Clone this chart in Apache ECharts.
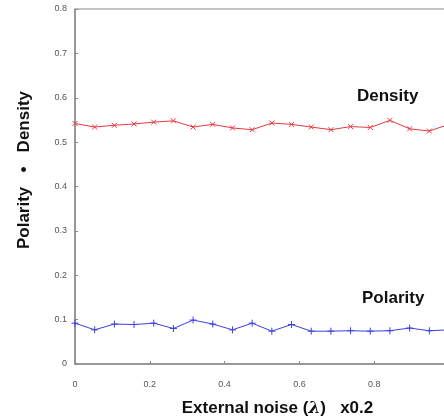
<!DOCTYPE html>
<html>
<head>
<meta charset="utf-8">
<script src="https://cdn.jsdelivr.net/npm/echarts@6/dist/echarts.min.js"></script>
<style>
  html, body { margin: 0; padding: 0; background: #fff; }
  #chart { width: 444px; height: 418px; }
</style>
</head>
<body>
<div id="chart"></div>
<script>
// 20 samples over the noise range 0..1
var noiseSteps = 20;
var density = [0.542, 0.534, 0.538, 0.541, 0.545, 0.548, 0.534, 0.540, 0.532, 0.528,
               0.543, 0.540, 0.534, 0.528, 0.535, 0.533, 0.549, 0.530, 0.525, 0.540];
var polarity = [0.092, 0.077, 0.090, 0.089, 0.092, 0.080, 0.099, 0.090, 0.077, 0.092,
                0.074, 0.089, 0.074, 0.074, 0.075, 0.074, 0.075, 0.081, 0.075, 0.077];
var xTicks = [0, 0.2, 0.4, 0.6, 0.8, 1];
var yTicks = [0, 0.1, 0.2, 0.3, 0.4, 0.5, 0.6, 0.7, 0.8];

function pairs(vals) {
  return vals.map(function (v, i) { return [i / (noiseSteps - 1), v]; });
}

var red = "#e53a45";
var blue = "#3f3fe0";
var axisGray = "#8a8a8a";
var crossPath = "path://M0,0L10,10M10,0L0,10";
var plusPath = "path://M5,0L5,10M0,5L10,5";
var boldFont = { fontSize: 17, fontWeight: "bold", fontFamily: "Liberation Sans", color: "#111" };

var myChart = echarts.init(document.getElementById("chart"));
myChart.setOption({
  animation: false,
  grid: {
    left: 75,
    top: 9,
    width: 374,
    bottom: 54,
    outerBoundsMode: "none",
    containLabel: false,
    show: true,
    borderColor: axisGray,
    borderWidth: 1
  },
  xAxis: {
    type: "value",
    min: 0,
    max: 1,
    interval: 0.2,
    axisLine: { show: true, lineStyle: { color: axisGray, width: 1.5 } },
    axisTick: { show: true, inside: true, length: 3, lineStyle: { color: axisGray } },
    splitLine: { show: false },
    axisLabel: {
      color: "#555",
      fontSize: 9,
      fontFamily: "Liberation Sans",
      margin: 16,
      showMaxLabel: false,
      formatter: function (v) { return xTicks.indexOf(+v.toFixed(1)) >= 0 ? String(+v.toFixed(1)) : ""; }
    },
    name: "{t|External noise (}{l|λ}{t|)   x0.2}",
    nameLocation: "middle",
    nameGap: 36,
    nameTextStyle: {
      rich: {
        t: boldFont,
        l: { fontSize: 17, fontWeight: "bold", fontStyle: "italic", fontFamily: "DejaVu Serif", color: "#111" }
      },
      padding: [0, 0, 0, 31]
    }
  },
  yAxis: {
    type: "value",
    min: 0,
    max: 0.8,
    interval: 0.1,
    axisLine: { show: true, lineStyle: { color: axisGray, width: 1.5 } },
    axisTick: { show: true, inside: true, length: 3, lineStyle: { color: axisGray } },
    splitLine: { show: false },
    axisLabel: {
      color: "#555",
      fontSize: 9,
      fontFamily: "Liberation Sans",
      margin: 8,
      formatter: function (v) { return yTicks.indexOf(+v.toFixed(1)) >= 0 ? String(+v.toFixed(1)) : ""; }
    },
    name: "Polarity   •   Density",
    nameLocation: "middle",
    nameGap: 42,
    nameTextStyle: Object.assign({ padding: [0, 0, 0, 33] }, boldFont)
  },
  graphic: [
    { type: "text", left: 357, top: 88, style: { text: "Density", font: "bold 17px 'Liberation Sans'", fill: "#111" } },
    { type: "text", left: 362, top: 290, style: { text: "Polarity", font: "bold 17px 'Liberation Sans'", fill: "#111" } }
  ],
  series: [
    {
      name: "Density",
      type: "line",
      data: pairs(density),
      symbol: crossPath,
      symbolSize: 5,
      lineStyle: { color: red, width: 1 },
      itemStyle: { color: "none", borderColor: red, borderWidth: 1 }
    },
    {
      name: "Polarity",
      type: "line",
      data: pairs(polarity),
      symbol: plusPath,
      symbolSize: 7,
      lineStyle: { color: blue, width: 1 },
      itemStyle: { color: "none", borderColor: blue, borderWidth: 1 }
    }
  ]
});
</script>
</body>
</html>
